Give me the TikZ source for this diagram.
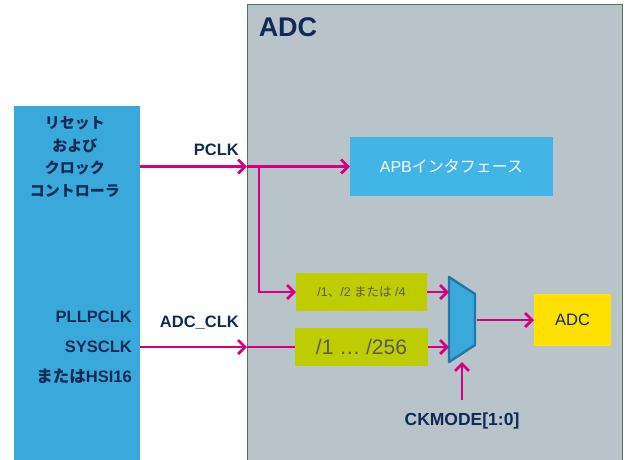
\documentclass[tikz,border=0pt]{standalone}
\usepackage{fontspec}
\setmainfont{Liberation Sans}
\newfontfamily\jp{Noto Sans CJK JP}
\usetikzlibrary{arrows.meta}

\definecolor{navy}{HTML}{0F2A55}
\definecolor{sig}{HTML}{D6007E}
\definecolor{adcbg}{HTML}{B9C4CA}
\definecolor{adcedge}{HTML}{4F7A5A}
\definecolor{rccblue}{HTML}{39A9DB}
\definecolor{apbblue}{HTML}{41B6E6}
\definecolor{olive}{HTML}{BDCD00}
\definecolor{adcyellow}{HTML}{FFE000}
\definecolor{muxedge}{HTML}{2277A6}
\definecolor{divtext}{HTML}{5A5A5A}

\tikzset{
  blk/.style={rectangle, inner sep=0pt, outer sep=0pt, draw=none},
  sigline/.style={draw=sig, line width=2.8pt},
  sigarrow/.style={sigline, -{Straight Barb[length=7pt,width=14pt]}},
  lbl/.style={inner sep=0pt, text=navy, font=\bfseries\fontsize{16.5}{20}\selectfont},
  divbox/.style={blk, fill=olive, text=divtext, minimum height=38pt},
}

\begin{document}
\begin{tikzpicture}[x=1pt,y=-1pt]
\useasboundingbox (0,0) rectangle (627,459);
\begin{scope}
\clip (0,0) rectangle (627,459);

% ADC peripheral area
\node[blk, fill=adcbg, draw=adcedge, line width=1pt,
      minimum width=375pt, minimum height=466pt] (adc) at (434.5,237) {};
\node[lbl, font=\bfseries\fontsize{27}{30}\selectfont] (title) at (288,27) {ADC};

% reset and clock controller
\node[blk, fill=rccblue, minimum width=126pt, minimum height=364pt] (rcc) at (77,288) {};
\node[lbl, align=center, font=\jp\bfseries\fontsize{15}{22.5}\selectfont] (rcctext) at (75,157)
  {リセット\\および\\クロック\\コントローラ};
\node[lbl, align=right, anchor=east, font=\bfseries\fontsize{16.5}{30}\selectfont] (srcs) at (132,347)
  {PLLPCLK\\SYSCLK\\{\jp または}HSI16};

% blocks inside the ADC
\node[blk, fill=apbblue, text=white, minimum width=203pt, minimum height=59pt,
      font=\fontsize{16}{19}\selectfont] (apb) at (451.5,166.5) {APB{\jp インタフェース}};
\node[divbox, minimum width=131pt, font=\fontsize{12.5}{15}\selectfont] (div1) at (361.5,292)
  {/1{\jp 、}/2 {\jp または} /4};
\node[divbox, minimum width=133pt, font=\fontsize{21}{24}\selectfont] (div2) at (361.5,347)
  {/1 … /256};
\node[blk, fill=adcyellow, text=navy, minimum width=77pt, minimum height=52pt,
      font=\fontsize{16.5}{19}\selectfont] (core) at (572.5,320) {ADC};

% clock multiplexer
\coordinate (mtl) at (449,277);
\coordinate (mtr) at (475,294);
\coordinate (mbr) at (475,345);
\coordinate (mbl) at (449,362);
\draw[fill=rccblue, draw=muxedge, line width=2.4pt, line join=round]
  (mtl) -- (mtr) -- (mbr) -- (mbl) -- cycle;

% clock paths
\node[lbl, anchor=east] (pclk) at (239,150) {PCLK};
\node[lbl, anchor=east] (adcclk) at (239,323) {ADC\_CLK};
\coordinate (pin) at (adc.west |- apb.west);
\coordinate (br) at (259,166.5);
\draw[sigarrow] (rcc.east |- apb.west) -- (pin);
\draw[sigarrow] (pin) -- (apb.west);
\draw[sigarrow] (br) |- (div1.west);
\coordinate (cin) at (adc.west |- div2.west);
\draw[sigarrow] (rcc.east |- div2.west) -- (cin);
\draw[sigline] (cin) -- (div2.west);
\draw[sigarrow] (div1.east) -- (mtl |- div1.east);
\draw[sigarrow] (div2.east) -- (mtl |- div2.east);
\draw[sigarrow] (477,320) -- (core.west);

% mode select
\node[lbl, font=\bfseries\fontsize{17.5}{20}\selectfont] (ckmode) at (462,421) {CKMODE[1:0]};
\coordinate (ckin) at (462,362);
\draw[sigarrow] (462,400) -- (ckin);
\end{scope}
\end{tikzpicture}
\end{document}
